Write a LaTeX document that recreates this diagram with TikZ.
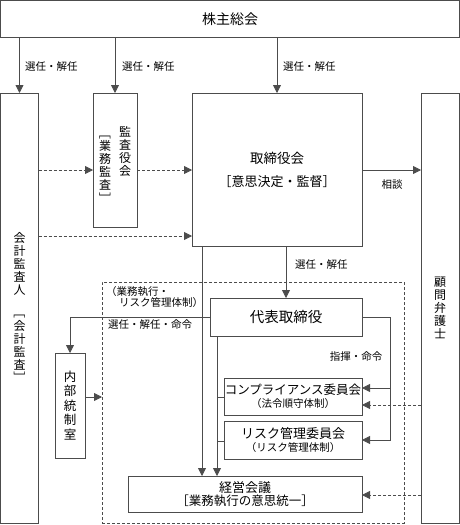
\documentclass[tikz,border=0pt]{standalone}
\usepackage{fontspec}
\usepackage{graphicx}
\setmainfont{Noto Sans CJK JP}
\usetikzlibrary{arrows.meta}
\newcommand{\vlb}{\rotatebox[origin=c]{-90}{［}}
\newcommand{\vrb}{\rotatebox[origin=c]{-90}{］}}
\begin{document}
\begin{tikzpicture}[x=1pt,y=-1pt,
  line/.style={draw=black!70, line width=0.8pt},
  box/.style={line, rectangle, anchor=north west, inner sep=0pt, outer sep=0pt, align=center},
  arr/.style={line, -{Triangle[width=8pt,length=8pt]}},
  darr/.style={arr, dash pattern=on 3pt off 2pt},
  plain/.style={line},
  lbl/.style={font=\fontsize{10.5}{12}\selectfont, inner sep=0pt},
  vt/.style={font=\fontsize{12}{13}\selectfont, align=center, inner sep=0pt}
]
\useasboundingbox (0,0) rectangle (460,525);

% boxes
\node[box, minimum width=459pt, minimum height=37pt, font=\fontsize{14}{16}\selectfont] (gm) at (0.5,0.5) {株主総会};
\node[box, minimum width=38pt, minimum height=430pt] (kaikei) at (0.5,93) {};
\node[vt] at (kaikei.center) {会\\計\\監\\査\\人\\[10pt]\vlb\\会\\計\\監\\査\\\vrb};
\node[box, minimum width=44pt, minimum height=134pt] (kansa) at (93,93) {};
\node[vt, anchor=north] at (125,126) {監\\査\\役\\会};
\node[vt, anchor=north] at (105,127) {\vlb\\業\\務\\監\\査\\\vrb};
\node[box, minimum width=170pt, minimum height=153pt] (board) at (192,93) {\fontsize{13.5}{15}\selectfont 取締役会\\[10pt]\fontsize{13}{15}\selectfont［意思決定・監督］};
\node[box, minimum width=38pt, minimum height=430pt] (komon) at (421,93) {};
\node[vt] at (komon.center) {顧\\問\\弁\\護\\士};

\node[box, dash pattern=on 3pt off 2pt, minimum width=302pt, minimum height=241pt] (exec) at (102,282) {};
\node[box, minimum width=152pt, minimum height=38pt, font=\fontsize{14.5}{16}\selectfont] (daihyo) at (210,298) {代表取締役};
\node[box, minimum width=30pt, minimum height=105pt] (naibu) at (55,353) {};
\node[vt, font=\fontsize{12.5}{14.5}\selectfont] at (naibu.center) {内\\部\\統\\制\\室};
\node[box, minimum width=138pt, minimum height=37pt] (comp) at (224,378) {\fontsize{12.5}{14}\selectfont コンプライアンス委員会\\[1pt]\fontsize{10.5}{12}\selectfont（法令順守体制）};
\node[box, minimum width=138pt, minimum height=38pt] (risk) at (224,421) {\fontsize{13}{14}\selectfont リスク管理委員会\\[1pt]\fontsize{10.5}{12}\selectfont（リスク管理体制）};
\node[box, minimum width=234pt, minimum height=36pt] (keiei) at (128,476) {\fontsize{13}{14}\selectfont 経営会議\\[1pt]\fontsize{12.5}{14}\selectfont［業務執行の意思統一］};

% labels
\node[lbl, anchor=west] at (25,67) {選任・解任};
\node[lbl, anchor=west] at (122,67) {選任・解任};
\node[lbl, anchor=west] at (283,67) {選任・解任};
\node[lbl] at (392,185) {相談};
\node[lbl, anchor=west] at (295,265) {選任・解任};
\node[lbl, anchor=west] at (106,292) {（業務執行・};
\node[lbl, anchor=west] at (119,303) {リスク管理体制）};
\node[lbl, anchor=west] at (108,325) {選任・解任・命令};
\node[lbl] at (356,357) {指揮・命令};

% connectors
\draw[arr] (gm.south -| kaikei.north) -- (kaikei.north);
\draw[arr] (gm.south -| kansa.north) -- (kansa.north);
\draw[arr] (gm.south -| board.north) -- (board.north);
\draw[darr] (kaikei.east |- 0,170) -- (kansa.west |- 0,170);
\draw[darr] (kansa.east |- 0,170) -- (board.west |- 0,170);
\draw[darr] (kaikei.east |- 0,236) -- (board.west |- 0,236);
\draw[arr] (board.east |- 0,170) -- (komon.west |- 0,170);
\draw[arr] (board.south -| 202,0) -- (keiei.north -| 202,0);
\draw[arr] (board.south -| daihyo.north) -- (daihyo.north);
\draw[arr] (daihyo.west |- 0,317) -| (naibu.north);
\draw[arr] (naibu.east |- 0,397) -- (exec.west |- 0,397);
\draw[arr] (daihyo.east |- 0,317) -| (390,440) -- (risk.east |- 0,440);
\draw[arr] (390,388) -- (comp.east |- 0,388);
\draw[darr] (komon.west |- 0,405) -- (comp.east |- 0,405);
\draw[darr] (komon.west |- 0,495) -- (keiei.east |- 0,495);
\draw[arr] (daihyo.south -| 217,0) -- (keiei.north -| 217,0);
\draw[plain] (217,397) -- (comp.west |- 0,397);
\draw[plain] (217,441) -- (risk.west |- 0,441);
\end{tikzpicture}
\end{document}
